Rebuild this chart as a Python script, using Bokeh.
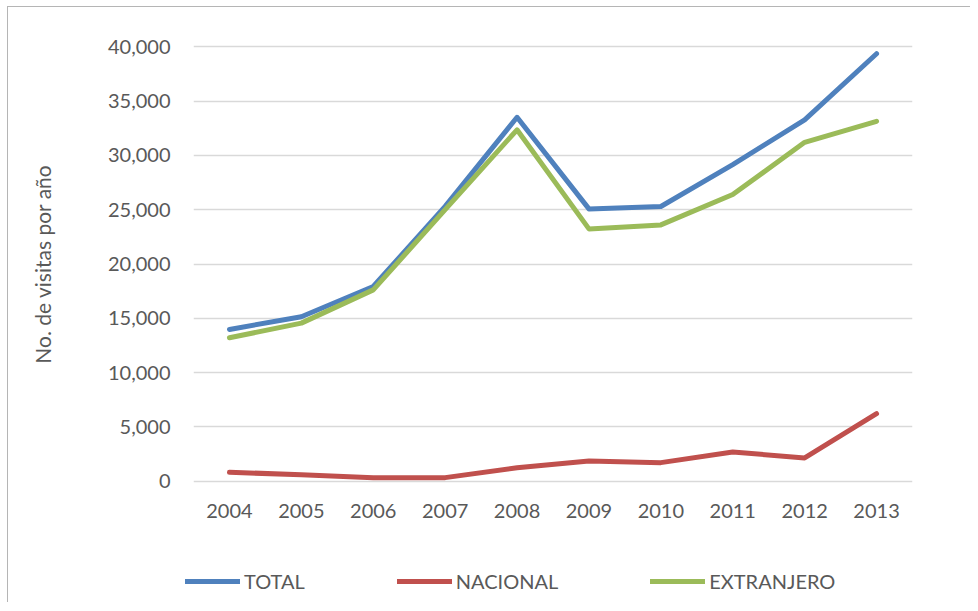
import math
from bokeh.plotting import figure
from bokeh.layouts import column
from bokeh.models import Range1d, FixedTicker, NumeralTickFormatter, Legend, LegendItem
from bokeh.embed import file_html
from bokeh.resources import INLINE

years = [2004, 2005, 2006, 2007, 2008, 2009, 2010, 2011, 2012, 2013]
total = [13980, 15150, 17930, 25300, 33500, 25070, 25290, 29150, 33260, 39350]
nacional = [830, 610, 340, 340, 1250, 1870, 1720, 2700, 2150, 6220]
extranjero = [13210, 14560, 17620, 25000, 32350, 23230, 23600, 26390, 31200, 33130]
series_names = ["TOTAL", "NACIONAL", "EXTRANJERO"]
y_ticks = [0, 5000, 10000, 15000, 20000, 25000, 30000, 35000, 40000]

FONT = "Lato"
GREY = "#595959"
colors = ["#4F81BD", "#C0504D", "#9BBB59"]

p = figure(width=962, height=540, output_backend="svg", toolbar_location=None,
           x_range=Range1d(2003.5, 2013.5), y_range=Range1d(-200, 40200),
           min_border_left=185, min_border_right=58, min_border_top=37, min_border_bottom=64)
p.frame_width = 719
p.frame_height = 439
p.frame_align = False
p.outline_line_color = None
p.background_fill_color = "white"
p.border_fill_color = "white"

p.xgrid.grid_line_color = None
p.ygrid.grid_line_color = "#D9D9D9"
p.ygrid.grid_line_width = 1.5

p.xaxis.ticker = FixedTicker(ticks=years)
p.yaxis.ticker = FixedTicker(ticks=y_ticks)
p.yaxis.formatter = NumeralTickFormatter(format="0,0")
for ax in (p.xaxis, p.yaxis):
    ax.axis_line_color = None
    ax.major_tick_line_color = None
    ax.minor_tick_line_color = None
    ax.major_tick_out = 0
    ax.major_tick_in = 0
    ax.major_label_text_font = FONT
    ax.major_label_text_font_size = "20px"
    ax.major_label_text_color = GREY
p.yaxis.major_label_standoff = 23
p.xaxis.major_label_standoff = 20

p.yaxis.axis_label = "No. de visitas por año"
p.yaxis.axis_label_text_font = FONT
p.yaxis.axis_label_text_font_size = "21px"
p.yaxis.axis_label_text_font_style = "normal"
p.yaxis.axis_label_text_color = GREY
p.yaxis.axis_label_standoff = 50

for vals, col in zip([total, nacional, extranjero], colors):
    p.line(years, vals, line_color=col, line_width=5, line_cap="round", line_join="round")

# legend strip below the chart
p2 = figure(width=962, height=55, output_backend="svg", toolbar_location=None,
            x_axis_type=None, y_axis_type=None,
            x_range=Range1d(0, 1), y_range=Range1d(0, 1),
            min_border_left=0, min_border_right=0, min_border_top=0, min_border_bottom=0)
p2.frame_align = False
p2.outline_line_color = None
p2.grid.grid_line_color = None
p2.background_fill_color = "white"
p2.border_fill_color = "white"
leg_renderers = []
for col in colors:
    # placeholder line outside the visible range: only its legend swatch shows
    r = p2.line([-10, -9], [-10, -9], line_color=col, line_width=5, line_cap="round")
    leg_renderers.append(r)

legend = Legend(items=[LegendItem(label=n, renderers=[r]) for n, r in zip(series_names, leg_renderers)],
                orientation="horizontal", location=(177, 9),
                glyph_width=55, glyph_height=20, label_standoff=4, spacing=92,
                padding=0, margin=0, border_line_color=None, background_fill_alpha=0,
                label_text_font=FONT, label_text_font_size="20px", label_text_color=GREY)
p2.add_layout(legend, "center")

layout = column(p, p2, spacing=0)
layout.styles = {"margin-left": "7px", "margin-top": "6px",
                 "border-top": "1px solid #B5B5B5", "border-left": "1px solid #B5B5B5"}

open("out.html", "w").write(file_html(layout, INLINE))
